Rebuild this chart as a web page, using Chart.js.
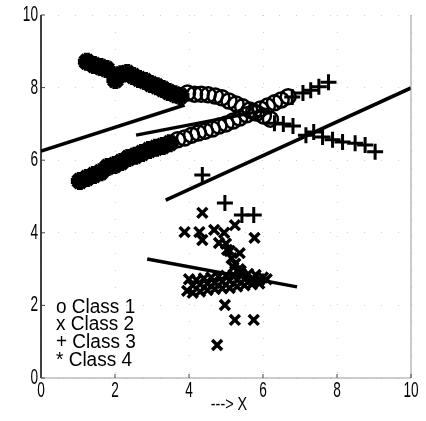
<!DOCTYPE html>
<html>
<head>
<meta charset="utf-8">
<script src="https://cdn.jsdelivr.net/npm/chart.js@4.4.1/dist/chart.umd.min.js"></script>
<style>
  html, body { margin: 0; padding: 0; background: #fff; }
  #wrap { width: 426px; height: 421px; }
</style>
</head>
<body>
<div id="wrap"><canvas id="c" width="426" height="421"></canvas></div>
<script>
// tick labels
const xTicks = [0, 2, 4, 6, 8, 10];
const yTicks = [0, 2, 4, 6, 8, 10];

// Class 1 (o)
const class1X = [3.69, 3.88, 4.07, 4.25, 4.44, 4.63, 4.81, 5.00, 5.19, 5.37, 5.56, 5.75, 5.93, 6.12, 6.31, 6.49, 6.68,
                 3.96, 4.15, 4.33, 4.52, 4.71, 4.89, 5.08, 5.27, 5.45, 5.64, 5.83, 6.01, 6.20];
const class1Y = [6.56, 6.61, 6.69, 6.75, 6.80, 6.86, 6.94, 7.00, 7.08, 7.16, 7.25, 7.33, 7.41, 7.49, 7.58, 7.66, 7.75,
                 7.85, 7.82, 7.82, 7.80, 7.77, 7.72, 7.63, 7.55, 7.47, 7.38, 7.30, 7.22, 7.13];

// Class 2 (x)
const class2X = [3.95, 4.10, 4.30, 4.50, 4.70, 4.90, 5.10, 5.30, 5.50, 5.70, 5.90,
                 4.00, 4.20, 4.40, 4.60, 4.80, 5.00, 5.20, 5.40, 5.60, 5.80, 6.00, 6.10,
                 4.10, 4.30, 4.50, 4.70, 4.90, 5.10, 5.30, 5.50, 5.70, 5.90,
                 5.00, 5.10, 5.15, 5.25, 5.35, 5.40, 5.20,
                 4.36, 3.88, 4.28, 4.68, 4.36, 4.95, 5.24, 5.77, 5.03, 4.81, 5.37,
                 4.97, 5.24, 5.75, 4.76];
const class2Y = [2.40, 2.35, 2.38, 2.42, 2.45, 2.47, 2.48, 2.52, 2.55, 2.58, 2.60,
                 2.72, 2.70, 2.74, 2.77, 2.80, 2.82, 2.84, 2.87, 2.87, 2.84, 2.77, 2.72,
                 2.55, 2.58, 2.60, 2.62, 2.65, 2.68, 2.70, 2.72, 2.72, 2.70,
                 3.70, 3.50, 3.30, 3.15, 3.00, 2.95, 3.05,
                 4.55, 4.02, 4.02, 4.08, 3.80, 4.00, 4.21, 3.86, 3.53, 3.72, 3.44,
                 2.01, 1.60, 1.60, 0.91];

// Class 3 (+)
const class3X = [6.31, 6.55, 6.81, 7.16, 7.37, 7.61, 7.88, 8.15, 8.49, 8.76, 9.03,
                 6.79, 7.08, 7.29, 7.51, 7.77,
                 4.36, 4.97, 5.43, 5.75];
const class3Y = [7.02, 7.00, 6.94, 6.69, 6.78, 6.64, 6.56, 6.50, 6.47, 6.42, 6.23,
                 7.74, 7.85, 7.93, 8.02, 8.15,
                 5.59, 4.82, 4.49, 4.49];

// Class 4 (*)
const class4X = [1.24, 1.43, 1.61, 1.77, 2.01, 2.17, 2.33, 2.49, 2.65, 2.81, 2.97, 3.13, 3.29, 3.45, 3.61, 3.77,
                 1.05, 1.24, 1.43, 1.61, 1.80, 1.99, 2.17, 2.36, 2.55, 2.73, 2.92, 3.11, 3.29, 3.48];
const class4Y = [8.71, 8.62, 8.57, 8.51, 8.21, 8.37, 8.40, 8.32, 8.24, 8.18, 8.10, 8.04, 7.96, 7.88, 7.82, 7.77,
                 5.43, 5.51, 5.59, 5.67, 5.81, 5.87, 5.95, 6.06, 6.12, 6.20, 6.28, 6.34, 6.39, 6.47];

// fitted lines, [x0, x1] and [y0, y1]
const lineAX = [0, 3.88], lineAY = [6.25, 7.52];
const lineBX = [2.57, 6.09], lineBY = [6.69, 7.38];
const lineCX = [3.37, 10], lineCY = [4.90, 7.99];
const lineDX = [2.87, 6.92], lineDY = [3.28, 2.51];

const legendItems = ['o Class 1', 'x Class 2', '+ Class 3', '* Class 4'];
const xTitle = '---> X';

function pts(xs, ys) { return xs.map((x, i) => ({ x: x, y: ys[i] })); }

function lineSet(xs, ys) {
    return { type: 'line', data: pts(xs, ys), borderColor: '#000', borderWidth: 3.5,
             pointRadius: 0, fill: false, order: 0 };
}

// squeezed text, like the narrow font of the original
function drawText(ctx, txt, x, y, size, sx, align) {
    ctx.save();
    ctx.font = size + 'px "Liberation Sans", Arial, sans-serif';
    ctx.textBaseline = 'middle';
    const w = ctx.measureText(txt).width * sx;
    let left = x;
    if (align === 'right') left = x - w;
    if (align === 'center') left = x - w / 2;
    ctx.translate(left, y);
    ctx.scale(sx, 1);
    ctx.textAlign = 'left';
    ctx.fillStyle = '#000';
    ctx.fillText(txt, 0, 0);
    ctx.restore();
}

const textPlugin = {
    id: 'texts',
    afterDraw(chart) {
        const ctx = chart.ctx;
        const xs = chart.scales.x, ys = chart.scales.y, a = chart.chartArea;
        // axis frame
        ctx.save();
        ctx.strokeStyle = '#000';
        ctx.lineWidth = 1.5;
        ctx.beginPath(); ctx.moveTo(a.left, a.top); ctx.lineTo(a.left, a.bottom); ctx.stroke();
        ctx.strokeStyle = '#999';
        ctx.lineWidth = 1;
        ctx.beginPath();
        ctx.moveTo(a.left, a.bottom); ctx.lineTo(a.right, a.bottom);
        ctx.lineTo(a.right, a.top); ctx.stroke();
        ctx.strokeStyle = '#444';
        xTicks.forEach(v => {
            const px = xs.getPixelForValue(v);
            ctx.beginPath(); ctx.moveTo(px, a.bottom); ctx.lineTo(px, a.bottom - 4); ctx.stroke();
        });
        yTicks.forEach(v => {
            const py = ys.getPixelForValue(v);
            ctx.beginPath(); ctx.moveTo(a.left, py); ctx.lineTo(a.left + 4, py); ctx.stroke();
        });
        ctx.restore();
        // tick labels
        xTicks.forEach(v => drawText(ctx, String(v), xs.getPixelForValue(v), a.bottom + 13, 22, 0.62, 'center'));
        yTicks.forEach(v => drawText(ctx, String(v), a.left - 3, ys.getPixelForValue(v), 22, 0.62, 'right'));
        // axis title
        drawText(ctx, xTitle, 229, 405, 18, 0.8, 'center');
        // legend
        legendItems.forEach((t, i) => drawText(ctx, t, 56, 307 + i * 17.7, 20, 0.95, 'left'));
    }
};

new Chart(document.getElementById('c'), {
    type: 'scatter',
    data: {
        datasets: [
            lineSet(lineAX, lineAY),
            lineSet(lineBX, lineBY),
            lineSet(lineCX, lineCY),
            lineSet(lineDX, lineDY),
            { label: 'Class 1', data: pts(class1X, class1Y), pointStyle: 'circle', pointRadius: 7.5,
              borderColor: '#000', backgroundColor: 'rgba(0,0,0,0)', borderWidth: 2.5, order: 1 },
            { label: 'Class 2', data: pts(class2X, class2Y), pointStyle: 'crossRot', pointRadius: 7,
              borderColor: '#000', borderWidth: 3.5, order: 1 },
            { label: 'Class 3', data: pts(class3X, class3Y), pointStyle: 'cross', pointRadius: 8,
              borderColor: '#000', borderWidth: 3, order: 1 },
            { label: 'Class 4', data: pts(class4X, class4Y), pointStyle: 'star', pointRadius: 9,
              borderColor: '#000', borderWidth: 6, order: 1 }
        ]
    },
    options: {
        responsive: false,
        animation: false,
        events: [],
        layout: { padding: { top: 15, right: 10, left: 0, bottom: 0 } },
        plugins: { legend: { display: false }, tooltip: { enabled: false } },
        scales: {
            x: {
                type: 'linear', min: 0, max: 10,
                ticks: { display: false, stepSize: 2 },
                grid: { color: '#d0d0d0', lineWidth: 1, drawTicks: false },
                border: { display: false, dash: [1, 16] },
                afterFit: s => { s.height = 43; }
            },
            y: {
                type: 'linear', min: 0, max: 10,
                ticks: { display: false, stepSize: 2 },
                grid: { color: '#d0d0d0', lineWidth: 1, drawTicks: false },
                border: { display: false, dash: [1, 16] },
                afterFit: s => { s.width = 41; }
            }
        }
    },
    plugins: [textPlugin]
});
</script>
</body>
</html>
